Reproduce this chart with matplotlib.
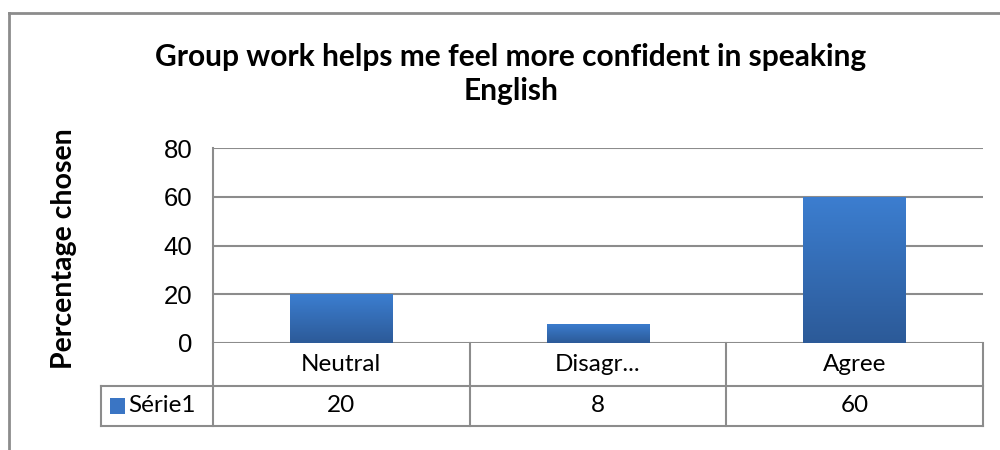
import numpy as np
import matplotlib.pyplot as plt
from matplotlib.colors import LinearSegmentedColormap
from matplotlib.lines import Line2D
from matplotlib.patches import Rectangle

categories = ["Neutral", "Disagr...", "Agree"]
values = [20, 8, 60]
series_name = "Série1"
title = "Group work helps me feel more confident in speaking\nEnglish"
ylabel = "Percentage chosen"
yticks = [0, 20, 40, 60, 80]

grid_col = "#8c8c8c"
label_font = ["Lato", "DejaVu Sans"]
grad = LinearSegmentedColormap.from_list("bar", ["#2c5a98", "#3c7ed0"])


def main():
    fig = plt.figure(figsize=(10, 4.5), dpi=100)
    ax = fig.add_axes([0.213, 1 - 343 / 450, 0.770, 195 / 450])

    x = np.arange(len(categories))
    bars = ax.bar(x, values, width=0.4, color="none", zorder=3)
    ramp = np.linspace(0, 1, 256).reshape(-1, 1)
    for b in bars:
        im = ax.imshow(ramp, cmap=grad, origin="lower", aspect="auto",
                       extent=[b.get_x(), b.get_x() + b.get_width(), 0, b.get_height()],
                       zorder=3)
        im.set_clip_path(b)

    ax.set_xlim(-0.5, len(categories) - 0.5)
    ax.set_ylim(0, 80)
    ax.set_yticks(yticks)
    ax.set_xticks([])
    ax.tick_params(axis="y", length=0, pad=15, labelsize=18.5)
    for lab in ax.get_yticklabels():
        lab.set_fontfamily("Liberation Sans")
    ax.grid(axis="y", color=grid_col, lw=1.5, zorder=0)
    for s in ["top", "right", "bottom"]:
        ax.spines[s].set_visible(False)
    ax.spines["left"].set_color(grid_col)
    ax.spines["left"].set_linewidth(1.5)

    # data table under the axis
    r1 = -43 / 195
    r2 = -83 / 195
    left = -112 / 770
    tr = ax.transAxes
    kw = dict(color=grid_col, lw=1.5, transform=tr, clip_on=False)
    ax.add_line(Line2D([left, 1], [r1, r1], **kw))
    ax.add_line(Line2D([left, 1], [r2, r2], **kw))
    ax.add_line(Line2D([left, left], [r1, r2], **kw))
    ax.add_line(Line2D([0, 0], [0, r2], **kw))
    n = len(categories)
    for i, (c, v) in enumerate(zip(categories, values)):
        xr = (i + 1) / n
        ax.add_line(Line2D([xr, xr], [0, r2], **kw))
        xc = (i + 0.5) / n
        ax.text(xc, r1 / 2, c, transform=tr, ha="center", va="center",
                fontsize=17.5, family=label_font)
        ax.text(xc, (r1 + r2) / 2, str(v), transform=tr, ha="center", va="center",
                fontsize=17.5, family=label_font)
    ax.add_patch(Rectangle((-103 / 770, (r1 + r2) / 2 - 8 / 195), 15 / 770, 16 / 195,
                           transform=tr, clip_on=False, facecolor="#3a75c4"))
    ax.text(-85 / 770, (r1 + r2) / 2, series_name, transform=tr, ha="left",
            va="center", fontsize=17.5, family=label_font)

    fig.text(0.511, 1 - 74 / 450, title, ha="center", va="center", fontsize=21.5,
             fontweight="bold", family=label_font, linespacing=1.3)
    fig.text(0.064, 1 - 249 / 450, ylabel, ha="center", va="center", rotation=90,
             fontsize=20.5, fontweight="bold", family=label_font)

    # outer chart frame
    fig.add_artist(Line2D([0.009, 1.0], [1 - 13 / 450] * 2, color="#8c8c8c", lw=2,
                          transform=fig.transFigure))
    fig.add_artist(Line2D([0.009, 0.009], [0, 1 - 13 / 450], color="#8c8c8c", lw=2,
                          transform=fig.transFigure))

    fig.savefig("out.png", dpi=100)


if __name__ == "__main__":
    main()
